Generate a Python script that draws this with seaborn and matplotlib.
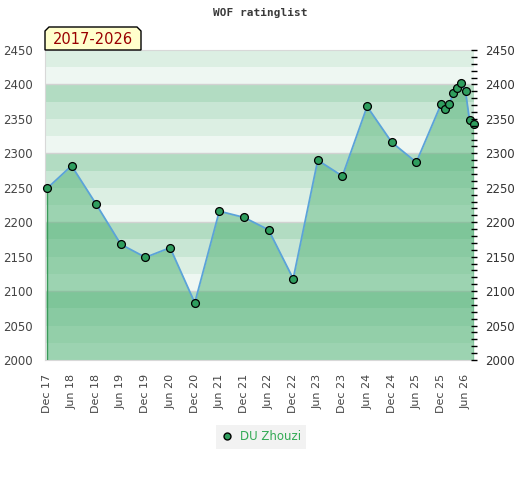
import numpy as np
import pandas as pd
import seaborn as sns
import matplotlib.pyplot as plt
import matplotlib.dates as mdates
from matplotlib.patches import Polygon
from matplotlib.lines import Line2D

# rating list months and ratings
months = ["2017-12", "2018-06", "2018-12", "2019-06", "2019-12", "2020-06",
          "2020-12", "2021-06", "2021-12", "2022-06", "2022-12", "2023-06",
          "2023-12", "2024-06", "2024-12", "2025-06", "2025-12", "2026-01",
          "2026-02", "2026-03", "2026-04", "2026-05", "2026-06", "2026-07",
          "2026-08"]
ratings = [2249, 2282, 2226, 2168, 2149, 2163, 2083, 2216, 2207, 2189, 2118,
           2290, 2267, 2368, 2316, 2287, 2371, 2364, 2371, 2387, 2395, 2402,
           2390, 2348, 2343]
player = "DU Zhouzi"
period = "2017-2026"
title = "WOF ratinglist"

df = pd.DataFrame({"date": pd.to_datetime(months), "rating": ratings})

sns.set_style("white")
plt.rcParams['font.family'] = ['DejaVu Sans']

fig = plt.figure(figsize=(5.2, 4.8), dpi=100)
ax = fig.add_axes([45 / 520, 120 / 480, 429 / 520, 310 / 480])

ymin, ymax = 2000, 2450
# striped background, 4 shades per 100 points
stripe_cols = ["#eef7f2", "#dcefe3", "#c8e6d4", "#b2dcc2"]
for lo in range(ymin, ymax, 25):
    ax.axhspan(lo, lo + 25, color=stripe_cols[(lo // 25) % 4], lw=0, zorder=0)
for g in range(2100, 2450, 100):
    ax.axhline(g, color="#d2d2d2", lw=1, zorder=1)

ax.fill_between(df["date"], df["rating"], ymin, color="#4cb071", alpha=0.5,
                lw=0, zorder=2)
ax.vlines([df["date"].iloc[0], df["date"].iloc[-1]], ymin,
          [df["rating"].iloc[0], df["rating"].iloc[-1]],
          color="#3a9a5a", lw=1, zorder=3)
sns.lineplot(data=df, x="date", y="rating", ax=ax, color="#5ba3d9", lw=1.3,
             zorder=4)
sns.scatterplot(data=df, x="date", y="rating", ax=ax, color="#2f9e5e",
                edgecolor="black", linewidth=0.9, s=32, zorder=5, clip_on=False)

ax.set_xlim(pd.Timestamp("2017-11-16"), pd.Timestamp("2026-08-03"))
ax.set_ylim(ymin, ymax)
ax.set_xlabel("")
ax.set_ylabel("")

ticks = pd.date_range("2017-12-01", "2026-06-01", freq="6MS")
ax.set_xticks(ticks)
ax.xaxis.set_major_formatter(mdates.DateFormatter("%b %y"))
ax.tick_params(axis="x", labelrotation=90, length=0, labelsize=8,
               labelcolor="#444444", pad=10)
ax.set_yticks(range(ymin, ymax + 1, 50))
ax.tick_params(axis="y", length=0, labelsize=8.5, labelcolor="#444444", pad=9)
for s in ["left", "bottom", "top"]:
    ax.spines[s].set_color("#d8d8d8")
ax.spines["right"].set_visible(False)

ax2 = ax.twinx()
ax2.set_ylim(ymin, ymax)
ax2.set_yticks(range(ymin, ymax + 1, 50))
ax2.set_yticks(range(ymin, ymax + 1, 10), minor=True)
ax2.tick_params(axis="y", which="both", direction="inout", length=4,
                width=1, color="black", labelsize=8.5, labelcolor="#333333",
                pad=6)
for s in ["left", "bottom", "top", "right"]:
    ax2.spines[s].set_visible(False)

fig.text(0.5, 1 - 13 / 480, title, ha="center", va="center",
         family="DejaVu Sans Mono", weight="bold", fontsize=8, color="#3a3a3a")

# period tag with cut corners
x0, x1, y0, y1, c = 45, 141, 430, 453, 4
pts = [(x0, y0), (x0, y1 - c), (x0 + c, y1), (x1 - c, y1), (x1, y1 - c), (x1, y0)]
pts = [(px / 520, py / 480) for px, py in pts]
fig.patches.append(Polygon(pts, closed=True, facecolor="#ffffcc",
                           edgecolor="black", lw=1, transform=fig.transFigure,
                           figure=fig))
fig.text(93 / 520, 1 - 40 / 480, period, ha="center", va="center",
         fontsize=10.5, color="#990000")

handle = Line2D([], [], marker="o", ls="none", markerfacecolor="#2f9e5e",
                markeredgecolor="black", markersize=5)
leg = fig.legend([handle], [player], loc="center", bbox_to_anchor=(261 / 520, 43 / 480),
                 frameon=True, facecolor="#efefef", edgecolor="none",
                 fontsize=8.5, handlelength=1, handletextpad=0.6,
                 borderpad=0.45, fancybox=False)
for t in leg.get_texts():
    t.set_color("#33aa55")

fig.savefig("out.png", dpi=100)
